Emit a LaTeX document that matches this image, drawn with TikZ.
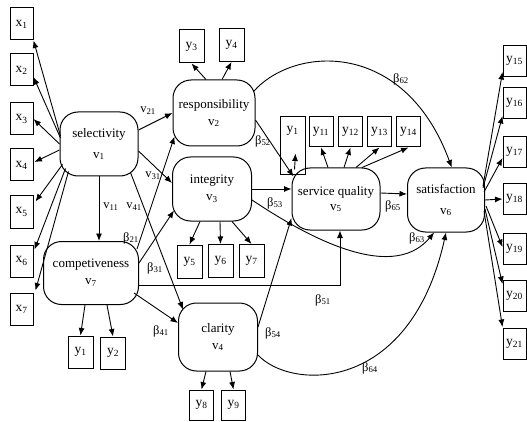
\documentclass[tikz,border=0pt]{standalone}
\usepackage{fontspec}
\setmainfont{Liberation Serif}
\usetikzlibrary{arrows.meta,calc}
\begin{document}
\begin{tikzpicture}[x=1pt,y=-1pt,
 lat/.style={draw, rounded corners=18pt, line width=1pt, align=center, inner sep=0pt, font=\fontsize{13}{15}\selectfont},
 obs/.style={draw, line width=1pt, inner sep=0pt, minimum width=24pt, minimum height=31pt, font=\fontsize{13.5}{15}\selectfont},
 arr/.style={-{Latex[length=7.5pt,width=6pt]}, line width=0.9pt},
 lab/.style={inner sep=0pt, font=\fontsize{12.5}{14}\selectfont}]
\useasboundingbox (0,0) rectangle (527,422);

% latent nodes
\node[lat, minimum width=78pt, minimum height=64pt] (sel) at (99,144) {selectivity\\[6pt]v\textsubscript{1}};
\node[lat, minimum width=95pt, minimum height=63pt] (comp) at (91,273) {competiveness\\[2pt]v\textsubscript{7}};
\node[lat, minimum width=82pt, minimum height=66pt] (resp) at (214,113) {responsibility\\[2pt]v\textsubscript{2}};
\node[lat, minimum width=79pt, minimum height=64pt] (integ) at (212,189) {integrity\\[2pt]v\textsubscript{3}};
\node[lat, minimum width=79pt, minimum height=68pt] (clar) at (218,337) {clarity\\[2pt]v\textsubscript{4}};
\node[lat, minimum width=88pt, minimum height=62pt] (sq) at (336,199) {service quality\\[0pt]v\textsubscript{5}};
\node[lat, minimum width=77pt, minimum height=64pt] (sat) at (446,200) {satisfaction\\[6pt]v\textsubscript{6}};

% x boxes
\node[obs, minimum width=23pt, minimum height=32pt] (x1) at (21.5,24) {x\textsubscript{1}};
\node[obs, minimum width=23pt, minimum height=32pt] (x2) at (21.5,70) {x\textsubscript{2}};
\node[obs, minimum width=23pt, minimum height=32pt] (x3) at (21.5,119) {x\textsubscript{3}};
\node[obs, minimum width=23pt, minimum height=32pt] (x4) at (21.5,165) {x\textsubscript{4}};
\node[obs, minimum width=23pt, minimum height=32pt] (x5) at (21.5,212) {x\textsubscript{5}};
\node[obs, minimum width=23pt, minimum height=32pt] (x6) at (21.5,261) {x\textsubscript{6}};
\node[obs, minimum width=23pt, minimum height=32pt] (x7) at (21.5,309) {x\textsubscript{7}};

% y boxes
\node[obs, minimum width=25pt, minimum height=32pt] (y1) at (80.5,352) {y\textsubscript{1}};
\node[obs, minimum width=25pt, minimum height=32pt] (y2) at (113,353) {y\textsubscript{2}};
\node[obs, minimum width=25pt, minimum height=33pt] (y3) at (191.5,46.5) {y\textsubscript{3}};
\node[obs, minimum width=25pt, minimum height=33pt] (y4) at (231.5,45) {y\textsubscript{4}};
\node[obs, minimum width=25pt, minimum height=33pt] (y5) at (189.5,261.5) {y\textsubscript{5}};
\node[obs, minimum width=25pt, minimum height=33pt] (y6) at (220.5,261) {y\textsubscript{6}};
\node[obs, minimum width=25pt, minimum height=33pt] (y7) at (251.5,261) {y\textsubscript{7}};
\node[obs, minimum width=24pt, minimum height=30pt] (y8) at (201.5,405) {y\textsubscript{8}};
\node[obs, minimum width=24pt, minimum height=30pt] (y9) at (233.5,405) {y\textsubscript{9}};
\node[obs, minimum width=25pt, minimum height=58pt, label={[anchor=north, yshift=-6pt, font=\fontsize{13.5}{15}\selectfont]north:y\textsubscript{1}}] (y10) at (292.5,146) {};
\node[obs, minimum width=24pt, minimum height=30pt] (y11) at (321,132) {y\textsubscript{11}};
\node[obs, minimum width=24pt, minimum height=30pt] (y12) at (350.5,132) {y\textsubscript{12}};
\node[obs, minimum width=24pt, minimum height=30pt] (y13) at (379.5,132) {y\textsubscript{13}};
\node[obs, minimum width=24pt, minimum height=30pt] (y14) at (408.5,132) {y\textsubscript{14}};
\node[obs, minimum width=23pt, minimum height=31pt] (y15) at (514.5,61) {y\textsubscript{15}};
\node[obs, minimum width=23pt, minimum height=31pt] (y16) at (514.5,103) {y\textsubscript{16}};
\node[obs, minimum width=23pt, minimum height=31pt] (y17) at (514.5,152) {y\textsubscript{17}};
\node[obs, minimum width=23pt, minimum height=31pt] (y18) at (514.5,199) {y\textsubscript{18}};
\node[obs, minimum width=23pt, minimum height=31pt] (y19) at (514.5,249) {y\textsubscript{19}};
\node[obs, minimum width=23pt, minimum height=31pt] (y20) at (514.5,296) {y\textsubscript{20}};
\node[obs, minimum width=23pt, minimum height=31pt] (y21) at (514.5,344) {y\textsubscript{21}};

% selectivity -> x
\draw[arr] ($(sel.west)+(1,-8)$) -- (x1.south east);
\draw[arr] ($(sel.west)+(1,-6)$) -- ($(x2.east)+(0,7)$);
\draw[arr] ($(sel.west)+(0,0)$) -- (x3.east);
\draw[arr] ($(sel.west)+(0,6)$) -- ($(x4.east)+(1,-3)$);
\draw[arr] ($(sel.south west)+(3,-12)$) -- ($(x5.north east)+(2,6)$);
\draw[arr] ($(sel.south west)+(6,-8)$) -- ($(x6.north east)+(1,5)$);
\draw[arr] ($(sel.south west)+(9,-5)$) -- ($(x7.north east)+(2,-2)$);

% selectivity paths
\draw[arr] ($(sel.east)+(0,-14)$) -- (resp.west);
\draw[arr] ($(sel.east)+(0,7)$) -- ($(integ.west)+(0,-6)$);
\draw[arr] (sel.south) -- (sel.south |- comp.north);
\draw[arr] ($(sel.south east)+(-8,-4)$) -- ($(clar.north west)+(5,7)$);

% competitiveness paths
\draw[arr] ($(comp.north east)+(-2,8)$) -- ($(resp.south west)+(2,-10)$);
\draw[arr] ($(comp.east)+(0,-10)$) -- ($(integ.south west)+(2,-11)$);
\draw[arr] ($(comp.south east)+(-5,-12)$) -- ($(clar.west)+(0,-14)$);
\draw[arr] ($(comp.east)+(0,12)$) -| ($(sq.south)+(4,0)$);
\draw[arr] ($(comp.south)+(-6,0)$) -- (y1.north);
\draw[arr] ($(comp.south)+(16,0)$) -- (y2.north);

% responsibility
\draw[arr] ($(resp.north)+(-8,0)$) -- (y3.south);
\draw[arr] ($(resp.north)+(8,0)$) -- (y4.south);
\draw[arr] ($(resp.east)+(0,7)$) -- ($(sq.north west)+(2,9)$);
\draw[arr] ($(resp.north east)+(-2,12)$) .. controls (295,45) and (405,40) .. (sat.80);

% integrity
\draw[arr] ($(integ.south)+(-12,0)$) -- (y5.north);
\draw[arr] ($(integ.south)+(8,0)$) -- (y6.north);
\draw[arr] ($(integ.south)+(20,0)$) -- (y7.north);
\draw[arr] (integ.east) -- (sq.west |- integ.east);
\draw[arr] ($(integ.east)+(0,11)$) .. controls (300,232) and (390,285) .. (sat.250);

% clarity
\draw[arr] ($(clar.south)+(-12,0)$) -- (y8.north);
\draw[arr] ($(clar.south)+(12,0)$) -- (y9.north);
\draw[arr] ($(clar.east)+(0,-10)$) -- ($(sq.west)+(0,19)$);
\draw[arr] ($(clar.east)+(0,18)$) .. controls (290,390) and (410,395) .. (sat.south);

% service quality
\draw[arr] ($(sq.north west)+(3,2)$) -- ($(y10.south)+(3,-22)$);
\draw[arr] ($(sq.north)+(-8,0)$) -- (y11.south);
\draw[arr] ($(sq.north)+(8,0)$) -- (y12.south);
\draw[arr] ($(sq.north)+(20,0)$) -- (y13.south);
\draw[arr] ($(sq.north)+(26,0)$) -- (y14.south);
\draw[arr] ($(sq.east)+(0,-6)$) -- ($(sat.west)+(0,-6)$);

% satisfaction -> y
\draw[arr] ($(sat.east)+(-2,-14)$) -- ($(y15.south west)+(0,-5)$);
\draw[arr] ($(sat.east)+(-2,-12)$) -- ($(y16.south west)+(0,-3)$);
\draw[arr] ($(sat.east)+(-1,-8)$) -- ($(y17.west)+(0,6)$);
\draw[arr] ($(sat.east)+(0,0)$) -- (y18.west);
\draw[arr] ($(sat.east)+(1,6)$) -- ($(y19.west)+(0,-2)$);
\draw[arr] ($(sat.east)+(0,9)$) -- ($(y20.north west)+(0,4)$);
\draw[arr] ($(sat.east)+(-1,11)$) -- ($(y21.north west)+(0,-1)$);

% labels
\node[lab] (l21) at (148,111) {v\textsubscript{21}};
\node[lab] (l31) at (153,176) {v\textsubscript{31}};
\node[lab] (l11) at (111,207) {v\textsubscript{11}};
\node[lab] (l41) at (134,207) {v\textsubscript{41}};
\node[lab] (b21) at (131,238) {β\textsubscript{21}};
\node[lab] (b31) at (155,268) {β\textsubscript{31}};
\node[lab] (b41) at (161,331) {β\textsubscript{41}};
\node[lab] (b52) at (263,141) {β\textsubscript{52}};
\node[lab] (b53) at (275,203) {β\textsubscript{53}};
\node[lab] (b54) at (273,333) {β\textsubscript{54}};
\node[lab] (b51) at (323,300) {β\textsubscript{51}};
\node[lab] (b62) at (401,79) {β\textsubscript{62}};
\node[lab] (b63) at (417,238) {β\textsubscript{63}};
\node[lab] (b64) at (370,368) {β\textsubscript{64}};
\node[lab] (b65) at (393,206) {β\textsubscript{65}};
\end{tikzpicture}
\end{document}
